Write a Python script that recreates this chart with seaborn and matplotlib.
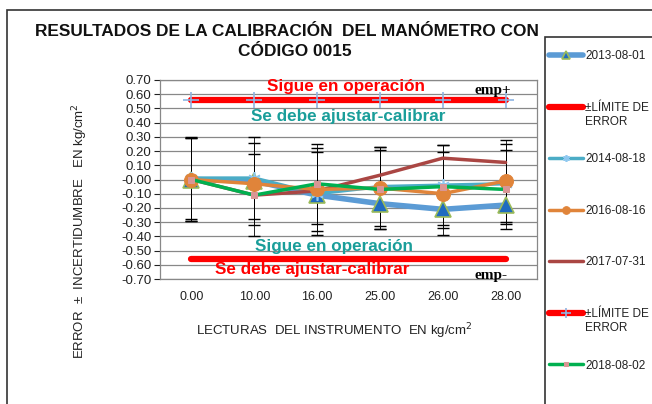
import numpy as np
import seaborn as sns
import matplotlib
matplotlib.use("Agg")
import matplotlib.pyplot as plt
from matplotlib.patches import Rectangle

# Instrument readings (kg/cm²) and measured errors per calibration date
readings = ["0.00", "10.00", "16.00", "25.00", "26.00", "28.00"]
err_2013 = [0.00, -0.01, -0.11, -0.17, -0.21, -0.18]
err_2014 = [0.01, 0.01, -0.10, -0.05, -0.04, -0.03]
err_2016 = [0.00, -0.03, -0.07, -0.06, -0.10, -0.01]
err_2017 = [0.00, -0.11, -0.08, 0.03, 0.15, 0.12]
err_2018 = [0.00, -0.11, -0.03, -0.07, -0.05, -0.07]

# Expanded uncertainties
unc_2014 = [0.29, 0.29, 0.29, 0.28, 0.28, 0.28]
unc_2016 = [0.29, 0.29, 0.29, 0.29, 0.29, 0.29]
unc_2018 = [0.29, 0.29, 0.28, 0.28, 0.29, 0.28]

# Maximum permissible error
emp = 0.56
limit_hi = [emp] * len(readings)
limit_lo = [-emp] * len(readings)

sns.set_theme(style="white")
plt.rcParams["font.family"] = ["Liberation Sans", "DejaVu Sans"]

fig = plt.figure(figsize=(6.52, 4.04), dpi=100)
W, H = 652, 404
ax = fig.add_axes([160 / W, 1 - 279 / H, (537 - 160) / W, (279 - 80) / H])

pos = np.arange(len(readings))

def series(y, **kw):
    return sns.lineplot(x=pos, y=y, ax=ax, **kw)

LIM = "±LÍMITE DE"
series(err_2013, color="#5B9BD5", lw=4, marker="^", markersize=11,
       markerfacecolor="#1F6BC0", markeredgecolor="#9BBB59", markeredgewidth=1.2,
       label="2013-08-01", zorder=3)
series(limit_lo, color="#FF0000", lw=4.5, label=LIM, zorder=3)
series(err_2014, color="#4BACC6", lw=2.5, marker=(6, 2, 0), markersize=9,
       markeredgecolor="#8EC8F0", markeredgewidth=1.2,
       label="2014-08-18", zorder=4)
series(err_2016, color="#E0843A", lw=2.5, marker="o", markersize=10,
       markerfacecolor="#E0843A", markeredgecolor="#E0843A",
       label="2016-08-16", zorder=5)
series(err_2017, color="#AA4643", lw=2.5, label="2017-07-31", zorder=4)
series(limit_hi, color="#FF0000", lw=4.5, marker="+", markersize=12,
       markeredgecolor="#8EB4E3", markeredgewidth=1.2,
       label=LIM, zorder=3)
series(err_2018, color="#00B050", lw=2.5, marker="s", markersize=4,
       markerfacecolor="#D99694", markeredgecolor="#D99694",
       label="2018-08-02", zorder=5)

# Uncertainty bars
for y, u in [(err_2014, unc_2014), (err_2016, unc_2016), (err_2018, unc_2018)]:
    ax.errorbar(pos, y, yerr=u, fmt="none", ecolor="black", elinewidth=0.6,
                capsize=4, capthick=1.0, zorder=2)

ax.set_xlim(-0.5, len(readings) - 0.5)
ax.set_ylim(-0.70, 0.70)
yt = np.round(np.arange(-0.70, 0.701, 0.10), 2)
ax.set_yticks(yt)
ax.set_yticklabels([f"{v:.2f}" for v in yt])
ax.set_xticks(pos)
ax.set_xticklabels(readings)
ax.tick_params(axis="x", length=0, pad=9, labelsize=9, colors="#222222")
ax.tick_params(axis="y", length=4, width=0.8, pad=2, labelsize=9.5,
               colors="#222222", left=True)
ax.yaxis.grid(True, color="#888888", lw=0.9)
ax.xaxis.grid(False)
for s in ax.spines.values():
    s.set_color("#888888")
    s.set_linewidth(0.9)
ax.set_xlabel("")
ax.set_ylabel("")

# Zone annotations
bold = dict(fontweight="bold", fontsize=12.3, ha="center", va="center")
ax.text(2.46, 0.655, "Sigue en operación", color="#FF0000", **bold)
ax.text(2.50, 0.44, "Se debe ajustar-calibrar", color="#1A9E9A", **bold)
ax.text(2.27, -0.47, "Sigue en operación", color="#1A9E9A", **bold)
ax.text(1.93, -0.633, "Se debe ajustar-calibrar", color="#FF0000", **bold)
serif = dict(family=["Liberation Serif", "DejaVu Serif"], fontweight="bold",
             fontsize=11, ha="center", va="center", color="black")
ax.text(4.80, 0.625, "emp+", **serif)
ax.text(4.76, -0.673, "emp-", **serif)

# Title and axis titles
fig.text(287 / W, 1 - 31 / H, "RESULTADOS DE LA CALIBRACIÓN  DEL MANÓMETRO CON",
         ha="center", va="center", fontsize=12.4, fontweight="bold", color="#111111")
fig.text(295 / W, 1 - 51 / H, "CÓDIGO 0015",
         ha="center", va="center", fontsize=12.4, fontweight="bold", color="#111111")
fig.text(80 / W, 1 - 231 / H, "ERROR  ±  INCERTIDUMBRE   EN kg/cm$^2$",
         rotation=90, ha="center", va="center", fontsize=9.5, color="#222222")
fig.text(334 / W, 1 - 331 / H, "LECTURAS  DEL INSTRUMENTO  EN kg/cm$^2$",
         ha="center", va="center", fontsize=9.5, color="#222222")

# Chart frame and legend panel
fig.patches.append(Rectangle((7 / W, -0.1), 2.0, 1.1 - 10 / H,
                             transform=fig.transFigure, fill=False,
                             edgecolor="#333333", lw=1.2))
fig.patches.append(Rectangle((545 / W, -0.1), 1.0, 1.1 - 37 / H,
                             transform=fig.transFigure, facecolor="white",
                             edgecolor="#333333", lw=1.2, zorder=1))

handles, labels = ax.get_legend_handles_labels()
if ax.get_legend() is not None:
    ax.get_legend().remove()
leg = fig.legend(handles, labels, loc="upper left",
                 bbox_to_anchor=(544.5 / W, 1 - 45.5 / H), frameon=False,
                 numpoints=1, markerscale=0.55, handlelength=2.9,
                 handletextpad=0.15, labelspacing=3.35, fontsize=8.5,
                 borderaxespad=0)
for t in leg.get_texts():
    t.set_color("#222222")

# Second line of the limit labels, placed under their first line
fig.canvas.draw()
inv = fig.transFigure.inverted()
for t in leg.get_texts():
    if t.get_text() == LIM:
        bb = t.get_window_extent()
        x0, y0 = inv.transform((bb.x0, bb.y0 - 14.5))
        fig.text(x0, y0, "ERROR", ha="left", va="bottom", fontsize=8.5,
                 color="#222222")

fig.savefig("out.png", dpi=100)
